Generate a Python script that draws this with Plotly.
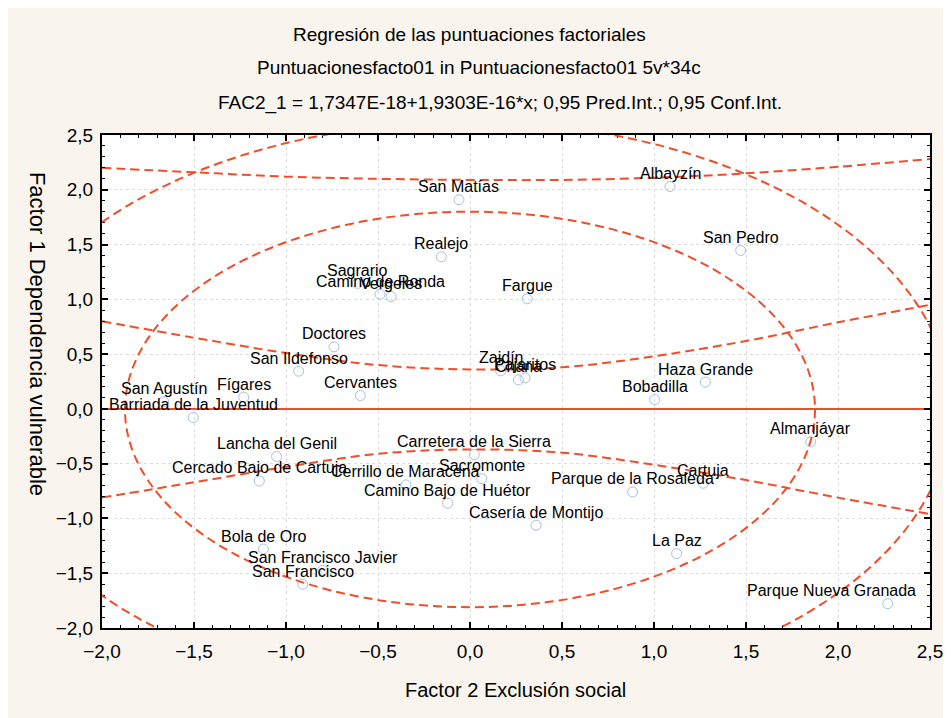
import plotly.graph_objects as go

# barrios: Factor 2 (x) vs Factor 1 (y)
names = [
    "San Matías", "Realejo", "Sagrario", "Camino de Ronda", "Vergeles",
    "Doctores", "San Ildefonso", "Cervantes", "Fígares", "San Agustín",
    "Barriada de la Juventud", "Albayzín", "San Pedro", "Fargue", "Zaidín",
    "Chana", "Pajaritos", "Haza Grande", "Bobadilla", "Lancha del Genil",
    "Cercado Bajo de Cartuja", "Bola de Oro", "San Francisco Javier",
    "San Francisco", "Carretera de la Sierra", "Cerrillo de Maracena",
    "Sacromonte", "Camino Bajo de Huétor", "Almanjáyar", "Cartuja",
    "Parque de la Rosaleda", "Casería de Montijo", "La Paz",
    "Parque Nueva Granada",
]
factor2 = [
    -0.06, -0.156, -0.611, -0.489, -0.429,
    -0.739, -0.931, -0.596, -1.230, -1.665,
    -1.504, 1.087, 1.471, 0.311, 0.167,
    0.263, 0.299, 1.279, 1.004, -1.051,
    -1.145, -1.123, -0.800,
    -0.909, 0.023, -0.348,
    0.064, -0.121, 1.852, 1.268,
    0.884, 0.359, 1.123,
    2.270,
]
factor1 = [
    1.909, 1.388, 1.146, 1.046, 1.026,
    0.566, 0.344, 0.122, 0.107, 0.066,
    -0.079, 2.030, 1.446, 1.005, 0.347,
    0.265, 0.283, 0.244, 0.085, -0.435,
    -0.658, -1.279, -1.473,
    -1.601, -0.417, -0.694,
    -0.636, -0.861, -0.301, -0.679,
    -0.758, -1.062, -1.321,
    -1.778,
]

# regression line and bands (values read at each 0.5 step)
reg_x = [-2.0, 2.5]
reg_y = [0.0, 0.0]
band_x = [-2.0, -1.5, -1.0, -0.5, 0.0, 0.5, 1.0, 1.5, 2.0, 2.5]
pred_upper = [2.20, 2.16, 2.12, 2.10, 2.09, 2.09, 2.11, 2.15, 2.21, 2.28]
conf_upper = [0.80, 0.65, 0.51, 0.40, 0.36, 0.38, 0.48, 0.62, 0.79, 0.95]
conf_lower = [-0.81, -0.67, -0.53, -0.41, -0.37, -0.40, -0.51, -0.65, -0.81, -0.96]

# ellipse bounds (x0, x1, y0, y1)
inner_ellipse = (-1.875, 1.875, -1.81, 1.80)
outer_ellipse = (-2.63, 2.61, -2.62, 2.62)

RED = "#F24D2A"
FONT = "Liberation Sans, Arial, sans-serif"
DASH = "9px,5px"
# labels that the chart pushes left to keep them inside the frame
label_xshift = {"Parque Nueva Granada": -56}

fig = go.Figure()

fig.add_trace(go.Scatter(x=reg_x, y=reg_y, mode="lines",
                         line=dict(color=RED, width=2)))
for band in (pred_upper, conf_upper, conf_lower):
    fig.add_trace(go.Scatter(x=band_x, y=band, mode="lines",
                             line=dict(color=RED, width=2, dash=DASH, shape="spline")))

fig.add_trace(go.Scatter(
    x=factor2, y=factor1, mode="markers",
    marker=dict(symbol="circle-open", size=10, color="#A8BFE0", line=dict(width=1)),
))

for name, x, y in zip(names, factor2, factor1):
    fig.add_annotation(x=x, y=y, text=name, showarrow=False,
                       xanchor="center", yanchor="middle", yshift=13,
                       xshift=label_xshift.get(name, 0),
                       font=dict(family=FONT, size=16, color="black"))

for x0, x1, y0, y1 in (inner_ellipse, outer_ellipse):
    fig.add_shape(type="circle", xref="x", yref="y", x0=x0, x1=x1, y0=y0, y1=y1,
                  line=dict(color=RED, width=2, dash=DASH))

axis = dict(
    showline=True, linecolor="black", linewidth=2, mirror="ticks",
    ticks="inside", ticklen=6, tickwidth=2, tickcolor="black",
    dtick=0.5, tickformat=".1f", automargin=False,
    minor=dict(dtick=0.1, ticks="inside", ticklen=3, tickcolor="black", tickwidth=1),
    showgrid=True, gridcolor="#DDDDDD", griddash="dot", gridwidth=1,
    zeroline=False, tickfont=dict(family=FONT, size=19, color="black"),
)
fig.update_xaxes(range=[-2.0, 2.5], ticklabelstandoff=5, **axis)
fig.update_yaxes(range=[-2.0, 2.5], ticklabelstandoff=3, **axis)

titles = [
    ("Regresión de las puntuaciones factoriales", 0.444, 1.203),
    ("Puntuacionesfacto01 in Puntuacionesfacto01 5v*34c", 0.455, 1.136),
    ("FAC2_1 = 1,7347E-18+1,9303E-16*x; 0,95 Pred.Int.; 0,95 Conf.Int.", 0.481, 1.065),
]
for txt, ax, ay in titles:
    fig.add_annotation(text=txt, x=ax, y=ay, xref="paper", yref="paper",
                       xanchor="center", yanchor="middle", showarrow=False,
                       font=dict(family=FONT, size=19, color="black"))
fig.add_annotation(text="Factor 2 Exclusión social", x=0.499, y=-0.126,
                   xref="paper", yref="paper", xanchor="center", yanchor="middle",
                   showarrow=False, font=dict(family=FONT, size=20, color="black"))
fig.add_annotation(text="Factor 1 Dependencia vulnerable", x=-0.077, y=0.596,
                   xref="paper", yref="paper", xanchor="center", yanchor="middle",
                   showarrow=False, textangle=90,
                   font=dict(family=FONT, size=22, color="black"))

# page body adds an 8px offset, so margins are 8px smaller on the top/left
fig.update_layout(
    width=951, height=718,
    margin=dict(l=94, r=29, t=127, b=98),
    paper_bgcolor="#F9F5EE", plot_bgcolor="white",
    showlegend=False, separators=", ",
)

fig.write_html("out.html")
